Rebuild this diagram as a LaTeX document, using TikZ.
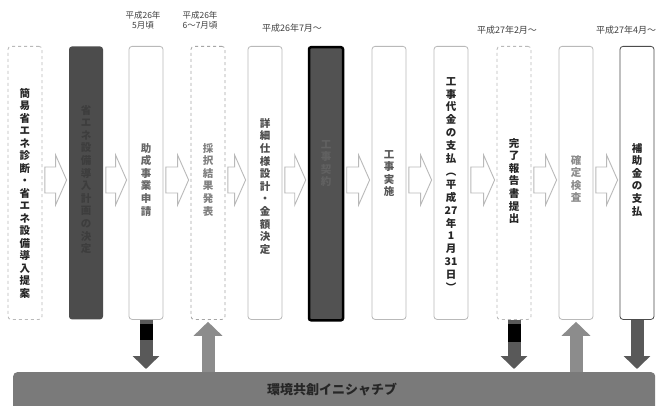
\documentclass[tikz,border=0pt]{standalone}
\usepackage{fontspec}
\setmainfont{Noto Sans CJK JP}
\usetikzlibrary{arrows.meta,calc}
\tikzset{
 box/.style={draw=gray!55, line width=0.8pt, rounded corners=3pt, fill=white, minimum width=34pt, minimum height=273pt, anchor=north, inner sep=0pt},
 darkbox/.style={box, draw=none, fill=black!72},
 vtext/.style={anchor=north, align=center, inner sep=0pt, font=\bfseries\fontsize{10.5}{12.6}\selectfont, text=black!85},
 chev/.style={draw=gray!55, line width=0.9pt, fill=white, line join=miter},
 downarr/.style={line width=13pt, draw=black!65, -{Triangle[width=26pt,length=13pt]}},
 uparr/.style={line width=13pt, draw=black!45, -{Triangle[width=28pt,length=14pt]}},
 hdr/.style={font=\fontsize{8.5}{10}\selectfont, text=black!75, align=center, inner sep=0pt},
 hdrone/.style={font=\fontsize{9}{11}\selectfont, text=black!75, inner sep=0pt},
}
\newcommand\chevron[2]{%
 \draw[chev] let \p1=(#1.east), \p2=(#2.west) in
 (\x1+2.5pt,-167pt) -- (\x2-13pt,-167pt) -- (\x2-13pt,-155pt) -- (\x2-2pt,-180pt) -- (\x2-13pt,-205pt) -- (\x2-13pt,-193pt) -- (\x1+2.5pt,-193pt) -- cycle;}
\begin{document}
\begin{tikzpicture}[x=1pt,y=-1pt]
\useasboundingbox[fill=white] (0,0) rectangle (661,406);
% boxes
\node[box, dashed] (b1) at (25,46) {};
\node[darkbox, fill=black!70] (b2) at (86,46) {};
\node[box] (b3) at (146,46) {};
\node[box, dashed, draw=gray!70] (b4) at (208,46) {};
\node[box] (b5) at (265,46) {};
\node[darkbox, fill=black!68, draw=black, line width=2.5pt, rounded corners=2pt] (b6) at (326,46) {};
\node[box] (b7) at (389,46) {};
\node[box] (b8) at (451,46) {};
\node[box, dashed] (b9) at (514,46) {};
\node[box] (b10) at (576,46) {};
\node[box, draw=black!70] (b11) at (637,46) {};
% chevrons
\chevron{b1}{b2}
\chevron{b2}{b3}
\chevron{b3}{b4}
\chevron{b4}{b5}
\chevron{b5}{b6}
\chevron{b6}{b7}
\chevron{b7}{b8}
\chevron{b8}{b9}
\chevron{b9}{b10}
\chevron{b10}{b11}
% texts
\node[vtext, font=\bfseries\fontsize{10.5}{12.5}\selectfont] (t1) at (25,88) {簡\\易\\省\\エ\\ネ\\診\\断\\・\\省\\エ\\ネ\\設\\備\\導\\入\\提\\案};
\node[vtext, text=black!76] (t2) at (86,105) {省\\エ\\ネ\\設\\備\\導\\入\\計\\画\\の\\決\\定};
\node[vtext, text=black!60] (t3) at (146,143) {助\\成\\事\\業\\申\\請};
\node[vtext, text=black!50] (t4) at (208,143) {採\\択\\結\\果\\発\\表};
\node[vtext, text=black!70] (t5) at (265,118) {詳\\細\\仕\\様\\設\\計\\・\\金\\額\\決\\定};
\node[vtext, text=black!62] (t6) at (326,140) {工\\事\\契\\約};
\node[vtext, text=black!65] (t7) at (389,150) {工\\事\\実\\施};
\node[vtext, font=\bfseries\fontsize{10.5}{12.9}\selectfont] (t8) at (451,77) {工\\事\\代\\金\\の\\支\\払\\︵\\平\\成\\27\\年\\1\\月\\31\\日\\︶};
\node[vtext] (t9) at (514,138) {完\\了\\報\\告\\書\\提\\出};
\node[vtext, text=black!45] (t10) at (576,155) {確\\定\\検\\査};
\node[vtext] (t11) at (637,143) {補\\助\\金\\の\\支\\払};
% headers
\node[hdr] (h3) at (143,20) {平成26年\\5月頃};
\node[hdr] (h4) at (200,20) {平成26年\\6～7月頃};
\node[hdrone] (h5) at (292,28) {平成26年7月～};
\node[hdrone] (h9) at (507,30) {平成27年2月～};
\node[hdrone] (h11) at (626,30) {平成27年4月～};
% bottom bar
\node[fill=black!52, rounded corners=4pt, minimum width=642pt, minimum height=38pt, anchor=north west, inner sep=0pt] (bar) at (13,372) {};
\node[font=\bfseries\fontsize{13}{15}\selectfont, text=black!85, inner sep=0pt] (bartext) at (332,390) {環境共創イニシャチブ};
% vertical arrows
\draw[downarr] (b3.south) -- ($(bar.north -| b3.south)+(0,-3)$);
\fill[black] ($(b3.south)+(-6.5,4)$) rectangle ($(b3.south)+(6.5,20)$);
\draw[uparr] (bar.north -| b4.south) -- ($(b4.south)+(0,2)$);
\draw[downarr] (b9.south) -- ($(bar.north -| b9.south)+(0,-3)$);
\fill[black] ($(b9.south)+(-6.5,4)$) rectangle ($(b9.south)+(6.5,22)$);
\draw[uparr] (bar.north -| b10.south) -- ($(b10.south)+(0,2)$);
\draw[downarr] (b11.south) -- ($(bar.north -| b11.south)+(0,-3)$);
\end{tikzpicture}
\end{document}
